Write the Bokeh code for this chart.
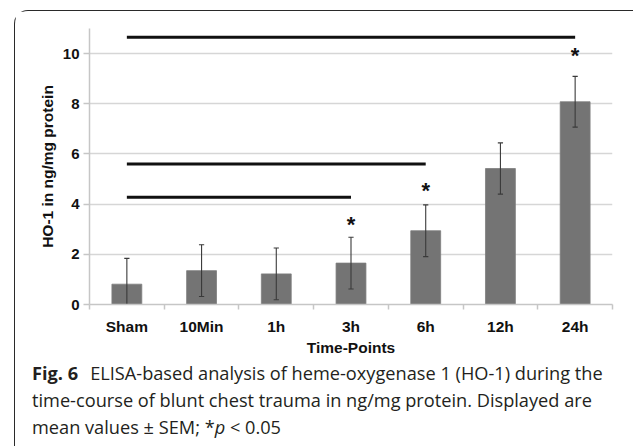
from bokeh.plotting import figure
from bokeh.models import Range1d, FixedTicker, Div
from bokeh.layouts import column
from bokeh.core.properties import value
from bokeh.embed import file_html
from bokeh.resources import INLINE

# ---------------- data ----------------
categories = ["Sham", "10Min", "1h", "3h", "6h", "12h", "24h"]
mean_values = [0.81, 1.35, 1.22, 1.65, 2.94, 5.42, 8.08]
sem_values = [1.03, 1.03, 1.03, 1.03, 1.03, 1.02, 1.01]
y_ticks = [0, 2, 4, 6, 8, 10]
sig_from = ["Sham", "Sham", "Sham"]
sig_to = ["3h", "6h", "24h"]
sig_y = [4.27, 5.60, 10.65]
star_cats = ["3h", "6h", "24h"]
star_y = [3.35, 4.71, 10.09]

y_label = "HO-1 in ng/mg protein"
x_label = "Time-Points"
cap_bold = "Fig. 6"
cap_line1 = "ELISA-based analysis of heme-oxygenase 1 (HO-1) during the"
cap_line2 = "time-course of blunt chest trauma in ng/mg protein. Displayed are"
cap_line3a = "mean values \u00b1 SEM; *"
cap_line3b = "p"
cap_line3c = " &lt; 0.05"

# ---------------- layout ----------------
OX, OY = 15, 11                 # content origin inside the bordered panel (page px)
W, H = 618, 350
FL, FR, FT, FB = 89 - OX, 612 - OX, 28 - OY, 304 - OY   # frame edges in canvas px

xpos = [i + 0.5 for i in range(len(categories))]
pos = dict(zip(categories, xpos))
upper = [m + s for m, s in zip(mean_values, sem_values)]
lower = [m - s for m, s in zip(mean_values, sem_values)]

p = figure(width=W, height=H, x_range=Range1d(0, len(categories)), y_range=Range1d(0, 11),
           output_backend="svg", toolbar_location=None, margin=0,
           min_border_left=FL, min_border_right=W - FR, min_border_top=FT, min_border_bottom=H - FB)
p.outline_line_color = None
p.background_fill_color = "white"
p.border_fill_color = "white"

AX = "#c6c6c6"
p.xgrid.visible = False
p.ygrid.ticker = FixedTicker(ticks=[t for t in y_ticks if t > 0])
p.ygrid.grid_line_color = "#d6d6d6"
p.ygrid.grid_line_width = 1.5

ya = p.yaxis[0]
ya.ticker = FixedTicker(ticks=y_ticks)
ya.axis_line_color = AX
ya.axis_line_width = 1.5
ya.major_tick_line_color = AX
ya.major_tick_line_width = 1.5
ya.major_tick_out = 6
ya.major_tick_in = 0
ya.minor_tick_line_color = None
ya.major_label_standoff = 4
ya.major_label_text_font = "Liberation Sans"
ya.major_label_text_font_style = "bold"
ya.major_label_text_font_size = "15px"
ya.major_label_text_color = "#111111"
ya.axis_label = y_label
ya.axis_label_text_font = "Liberation Sans"
ya.axis_label_text_font_style = "bold"
ya.axis_label_text_font_size = "15.5px"
ya.axis_label_text_color = "#111111"
ya.axis_label_standoff = 4

xa = p.xaxis[0]
xa.ticker = FixedTicker(ticks=xpos, minor_ticks=list(range(len(categories) + 1)))
xa.major_label_overrides = {x: c for x, c in zip(xpos, categories)}
xa.axis_line_color = AX
xa.axis_line_width = 1.5
xa.major_tick_line_color = None
xa.major_tick_out = 0
xa.major_tick_in = 0
xa.minor_tick_line_color = AX
xa.minor_tick_line_width = 1.5
xa.minor_tick_out = 5
xa.minor_tick_in = 0
xa.major_label_standoff = 8
xa.major_label_text_font = "Liberation Sans"
xa.major_label_text_font_style = "bold"
xa.major_label_text_font_size = "15.5px"
xa.major_label_text_color = "#111111"
xa.axis_label = x_label
xa.axis_label_text_font = "Liberation Sans"
xa.axis_label_text_font_style = "bold"
xa.axis_label_text_font_size = "15.5px"
xa.axis_label_text_color = "#111111"
xa.axis_label_standoff = 1

# bars
p.vbar(x=xpos, top=mean_values, width=0.4, fill_color="#747474", line_color="#7e7e7e", line_width=0.8)

# error bars (segments are clipped to the frame)
cap = 0.035
ERR = "#3a3a3a"
p.segment(x0=xpos, y0=lower, x1=xpos, y1=upper, line_color=ERR, line_width=1.1)
p.segment(x0=[x - cap for x in xpos], y0=upper, x1=[x + cap for x in xpos], y1=upper,
          line_color=ERR, line_width=1.1)
p.segment(x0=[x - cap for x in xpos], y0=lower, x1=[x + cap for x in xpos], y1=lower,
          line_color=ERR, line_width=1.1)

# significance lines
p.segment(x0=[pos[c] for c in sig_from], x1=[pos[c] for c in sig_to], y0=sig_y, y1=sig_y,
          line_color="#111111", line_width=3)

# stars
p.text(x=[pos[c] for c in star_cats], y=star_y, text=["*"] * len(star_cats),
       text_font=value("Liberation Sans"), text_font_style="bold", text_font_size="22px",
       text_align="center", text_baseline="middle", y_offset=4, text_color="#111111")

# caption
cap_html = (
    '<div style="position:relative; top:-1px; white-space:nowrap; font-family:\'Open Sans\';'
    ' font-size:18.2px; line-height:27px; color:#231f20;">'
    f'<b>{cap_bold}</b><span style="margin-left:12px">{cap_line1}</span><br>'
    f'{cap_line2}<br>'
    f'{cap_line3a}<i>{cap_line3b}</i>{cap_line3c}'
    '</div>'
)
caption = Div(text=cap_html, width=W - (32 - OX), height=446 - OY - H, margin=(0, 0, 0, 32 - OX))

layout = column(p, caption, margin=(OY - 1, 0, 0, OX - 1),
                styles={"border-top": "1px solid #2a2a2a", "border-left": "1px solid #2a2a2a",
                        "border-top-left-radius": "14px"})

open("out.html", "w").write(file_html(layout, INLINE))
